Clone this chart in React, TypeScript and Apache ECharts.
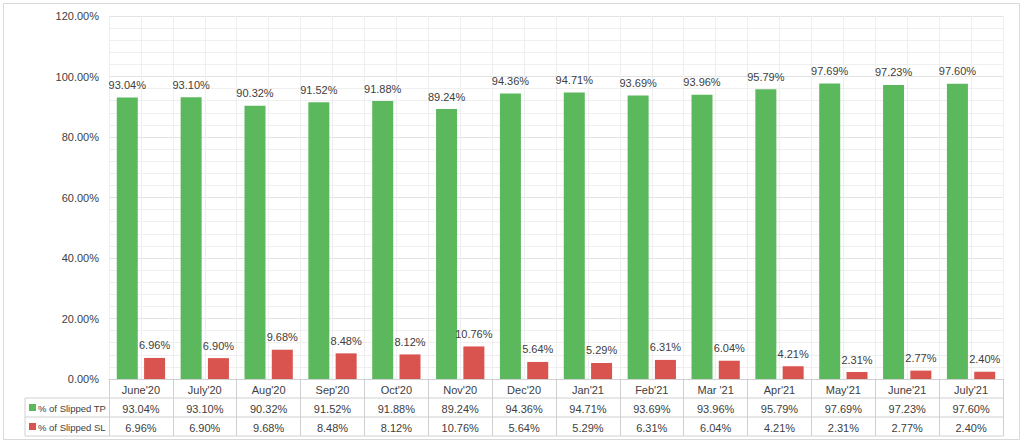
import React, { useEffect, useRef } from "react";
import * as echarts from "echarts";

const categories = ["June'20", "July'20", "Aug'20", "Sep'20", "Oct'20", "Nov'20", "Dec'20", "Jan'21", "Feb'21", "Mar '21", "Apr'21", "May'21", "June'21", "July'21"];
const slippedTP = [93.04, 93.1, 90.32, 91.52, 91.88, 89.24, 94.36, 94.71, 93.69, 93.96, 95.79, 97.69, 97.23, 97.6];
const slippedSL = [6.96, 6.9, 9.68, 8.48, 8.12, 10.76, 5.64, 5.29, 6.31, 6.04, 4.21, 2.31, 2.77, 2.4];
const seriesNames = ["% of Slipped TP", "% of Slipped SL"];

const GREEN = "#5cb85c";
const RED = "#d9534f";
const FONT = "'Liberation Sans', Arial, sans-serif";
const TXT = "#404040";
const GRID = "#e3e3e3";

export default function App() {
  const ref = useRef<HTMLDivElement>(null);
  useEffect(() => {
    document.body.style.margin = "0";
    const chart = echarts.init(ref.current!, null, { renderer: "svg" });
    const fmt = (v: number) => v.toFixed(2) + "%";
    const L = 109, R = 1003, T = 16, B = 379, RH = 19;
    const tableAxis = (data: string[], offset: number) => ({
      type: "category", data, gridIndex: 0, position: "bottom", offset,
      axisLine: { show: false }, axisTick: { show: false }, splitLine: { show: false },
      axisLabel: { color: TXT, fontFamily: FONT, fontSize: 11, margin: 5 },
    });
    const legendRow = (i: number, color: string) => [
      { type: "rect", shape: { x: 29, y: B + RH * (i + 1) + 6, width: 7, height: 7 }, style: { fill: color } },
      { type: "text", x: 38, y: B + RH * (i + 1) + 10, style: { text: seriesNames[i], fill: TXT, font: `9.5px ${FONT}`, verticalAlign: "middle" } },
    ];
    chart.setOption({
      animation: false,
      grid: { left: L, right: 1024 - R, top: T, bottom: 445 - B },
      xAxis: [
        {
          type: "category", data: categories, position: "bottom",
          axisLine: { lineStyle: { color: "#d0d0d0" } },
          axisTick: { show: true, length: RH * 3, lineStyle: { color: "#d0d0d0" } },
          axisLabel: { color: TXT, fontFamily: FONT, fontSize: 11, margin: 5 },
          splitLine: { show: true, lineStyle: { color: GRID } },
        },
        { type: "value", min: 0, max: 28, interval: 1, show: true, axisLine: { show: false }, axisTick: { show: false }, axisLabel: { show: false }, splitLine: { show: true, lineStyle: { color: "#efefef" } } },
        tableAxis(slippedTP.map(fmt), RH),
        tableAxis(slippedSL.map(fmt), RH * 2),
      ],
      yAxis: {
        type: "value", min: 0, max: 120, interval: 20,
        axisLine: { show: false }, axisTick: { show: false },
        axisLabel: { formatter: (v: number) => v.toFixed(2) + "%", color: TXT, fontFamily: FONT, fontSize: 11, margin: 10 },
        splitLine: { lineStyle: { color: GRID } },
        minorTick: { show: false, splitNumber: 5 },
        minorSplitLine: { show: true, lineStyle: { color: "#efefef" } },
      },
      series: [
        { name: seriesNames[0], type: "bar", data: slippedTP, itemStyle: { color: GREEN }, barWidth: 21, barGap: "30%",
          label: { show: true, position: "top", distance: 7, formatter: (p: any) => fmt(p.value), color: TXT, fontFamily: FONT, fontSize: 11 } },
        { name: seriesNames[1], type: "bar", data: slippedSL, itemStyle: { color: RED }, barWidth: 21,
          label: { show: true, position: "top", distance: 7, formatter: (p: any) => fmt(p.value), color: TXT, fontFamily: FONT, fontSize: 11 } },
      ],
      graphic: [
        { type: "rect", shape: { x: 3.5, y: 3.5, width: 1016, height: 436 }, style: { fill: "none", stroke: "#d9d9d9" } },
        ...[1, 2, 3].map((k) => ({ type: "line", shape: { x1: 25, y1: B + RH * k, x2: R, y2: B + RH * k }, style: { stroke: "#d0d0d0" } })),
        { type: "line", shape: { x1: 25, y1: B + RH, x2: 25, y2: B + RH * 3 }, style: { stroke: "#d0d0d0" } },
        ...legendRow(0, GREEN),
        ...legendRow(1, RED),
      ],
    });
    return () => chart.dispose();
  }, []);
  return <div ref={ref} style={{ width: 1024, height: 445, background: "#fff" }} />;
}
